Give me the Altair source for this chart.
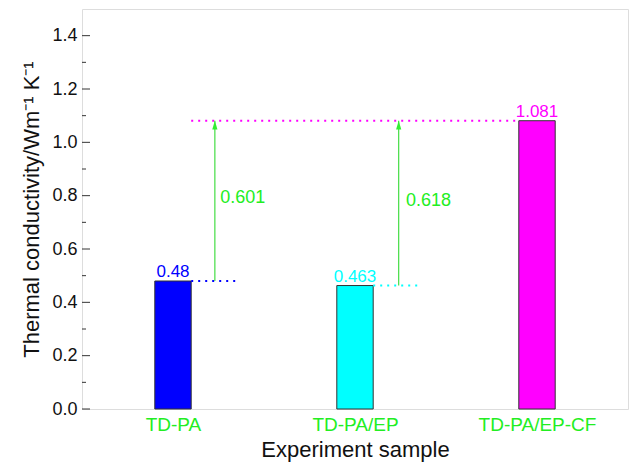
import altair as alt
import pandas as pd

samples = ["TD-PA", "TD-PA/EP", "TD-PA/EP-CF"]
conductivity = [0.48, 0.463, 1.081]
bar_colors = ["#0000ff", "#00ffff", "#ff00ff"]
increase_labels = ["0.601", "0.618"]
y_major = [0.0, 0.2, 0.4, 0.6, 0.8, 1.0, 1.2, 1.4]
y_minor = [0.1, 0.3, 0.5, 0.7, 0.9, 1.1, 1.3]

FONT = "Liberation Sans"
GREEN = "#22ee22"

bars = pd.DataFrame({
    "sample": samples,
    "value": conductivity,
    "color": bar_colors,
    "xc": [i + 0.5 for i in range(len(samples))],
    "x0": [i + 0.4 for i in range(len(samples))],
    "x1": [i + 0.6 for i in range(len(samples))],
    "label": ["0.48", "0.463", "1.081"],
})

top = conductivity[2]
arrows = pd.DataFrame({
    "x": [0.73, 1.74],
    "y0": [conductivity[0], conductivity[1]],
    "y1": [top, top],
    "lx": [0.76, 1.78],
    "ly": [0.79, 0.78],
    "label": increase_labels,
})

dots = pd.DataFrame({
    "x0": [0.6, 1.6, 0.6],
    "x1": [0.85, 1.86, 2.4],
    "y": [conductivity[0], conductivity[1], top],
    "color": [bar_colors[0], bar_colors[1], bar_colors[2]],
})

xscale = alt.Scale(domain=[0, 3], nice=False, zero=False)
yscale = alt.Scale(domain=[0, 1.5], nice=False)

base_x_axis = alt.Axis(
    values=[0.5, 1.5, 2.5],
    labelExpr="datum.value < 1 ? 'TD-PA' : datum.value < 2 ? 'TD-PA/EP' : 'TD-PA/EP-CF'",
    labelColor=GREEN, labelFontSize=19, labelFont=FONT, labelPadding=6,
    ticks=False, grid=False, domain=False,
    title="Experiment sample", titleFont=FONT, titleFontSize=22,
    titleFontWeight="normal", titleColor="#111", titlePadding=5,
)
base_y_axis = alt.Axis(
    values=y_major, format=".1f", labelFontSize=18, labelFont=FONT,
    labelColor="#111", labelPadding=5, ticks=False, grid=False, domain=False,
    title="Thermal conductivity/Wm⁻¹ K⁻¹", titleFont=FONT, titleFontSize=22,
    titleFontWeight="normal", titleColor="#111", titlePadding=8,
)

bar_layer = alt.Chart(bars).mark_bar(stroke="#333", strokeWidth=1).encode(
    x=alt.X("x0:Q", scale=xscale, axis=base_x_axis),
    x2="x1:Q",
    y=alt.Y("value:Q", scale=yscale, axis=base_y_axis),
    y2=alt.datum(0),
    color=alt.Color("color:N", scale=None),
)

bar_text = alt.Chart(bars).mark_text(
    font=FONT, fontSize=17, baseline="bottom", dy=0
).encode(
    x="xc:Q", y="value:Q", text="label:N",
    color=alt.Color("color:N", scale=None),
)

dot_layer = alt.Chart(dots).mark_rule(strokeDash=[2, 5], strokeWidth=2).encode(
    x="x0:Q", x2="x1:Q", y="y:Q",
    color=alt.Color("color:N", scale=None),
)

shaft = alt.Chart(arrows).mark_rule(color="#44dd44", strokeWidth=1.2).encode(
    x="x:Q", y="y0:Q", y2="y1:Q",
)
head = alt.Chart(arrows).mark_point(
    shape="M0,0L-0.3,1L0.3,1Z", filled=True, size=300, color="#33ee33", opacity=1
).encode(x="x:Q", y="y1:Q")

arrow_text = alt.Chart(arrows).mark_text(
    font=FONT, fontSize=18, align="left", baseline="middle", color=GREEN
).encode(x="lx:Q", y="ly:Q", text="label:N")

major = pd.DataFrame({"v": y_major})
minor = pd.DataFrame({"v": y_minor})
major_ticks = alt.Chart(major).mark_rule(color="#333", strokeWidth=1).encode(
    y="v:Q", x=alt.value(0), x2=alt.value(8))
minor_ticks = alt.Chart(minor).mark_rule(color="#333", strokeWidth=1).encode(
    y="v:Q", x=alt.value(0), x2=alt.value(4))

chart = alt.layer(
    bar_layer, dot_layer, shaft, head, bar_text, arrow_text, major_ticks, minor_ticks
).properties(
    width=546, height=400,
    padding={"left": 82, "top": 9, "right": 3, "bottom": 56},
    autosize=alt.AutoSizeParams(type="none"),
).configure_view(
    stroke="#333", strokeWidth=1.5
).configure(background="white")

chart.save("out.html", embed_options={"renderer": "svg", "actions": False})
